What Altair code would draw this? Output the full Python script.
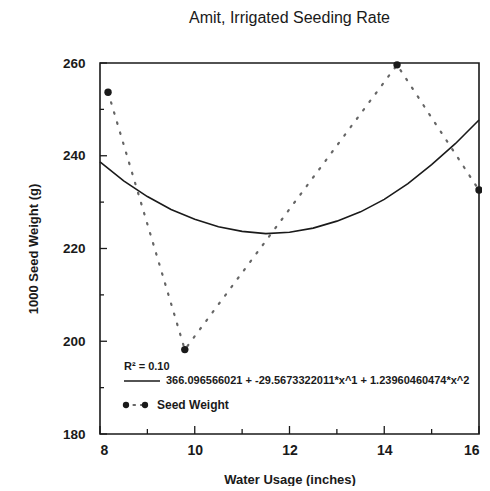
import altair as alt
import pandas as pd

# observed data
water = [8.17, 9.79, 14.27, 16.0]
seed_weight = [253.7, 198.2, 259.6, 232.6]

# fitted quadratic curve
curve_x = [8, 8.5, 9, 9.5, 10, 10.5, 11, 11.5, 12, 12.5, 13, 13.5, 14, 14.5, 15, 15.5, 16]
curve_y = [238.7, 234.6, 231.2, 228.4, 226.3, 224.7, 223.7, 223.2, 223.5, 224.4, 225.9, 227.9, 230.6, 234.0, 238.1, 242.6, 247.7]

# tick values
x_major = [8, 10, 12, 14, 16]
x_minor = [9, 11, 13, 15]
y_major = [180, 200, 220, 240, 260]
y_minor = [190, 210, 230, 250]

title = "Amit, Irrigated Seeding Rate"
x_title = "Water Usage (inches)"
y_title = "1000 Seed Weight (g)"
r2_text = "R\u00b2 = 0.10"
eq_text = "366.096566021 + -29.5673322011*x^1 + 1.23960460474*x^2"
series_name = "Seed Weight"

FONT = "Liberation Sans"
INK = "#1a1a1a"

pts = pd.DataFrame({"x": water, "y": seed_weight})
curve = pd.DataFrame({"x": curve_x, "y": curve_y})

xs = alt.Scale(domain=[8, 16], nice=False, zero=False)
ys = alt.Scale(domain=[180, 260], nice=False, zero=False)

xax = alt.Axis(values=x_major, format="d", ticks=False, grid=False, domain=False,
               labelFont=FONT, labelFontWeight="bold", labelFontSize=14, labelColor=INK,
               labelPadding=9, title=x_title, titleFont=FONT, titleFontWeight="bold",
               titleFontSize=13, titleColor=INK, titlePadding=16)
yax = alt.Axis(values=y_major, format="d", ticks=False, grid=False, domain=False,
               labelFont=FONT, labelFontWeight="bold", labelFontSize=13.5, labelColor=INK,
               labelPadding=15, title=y_title, titleFont=FONT, titleFontWeight="bold",
               titleFontSize=13, titleColor=INK, titlePadding=22)

base_x = alt.X("x:Q", scale=xs, axis=xax)
base_y = alt.Y("y:Q", scale=ys, axis=yax)

dotted = alt.Chart(pts).mark_line(color="#666666", strokeWidth=2.2, strokeDash=[1.5, 9],
                                  strokeCap="round").encode(x=base_x, y=base_y)
dots = alt.Chart(pts).mark_circle(color=INK, size=55, opacity=1).encode(x="x:Q", y="y:Q")
fit = alt.Chart(curve).mark_line(color=INK, strokeWidth=1.6).encode(x="x:Q", y="y:Q")

# inner ticks
ytick_major = alt.Chart(pd.DataFrame({"y": y_major})).mark_rule(color=INK, strokeWidth=1.3).encode(
    y="y:Q", x=alt.value(0), x2=alt.value(7))
ytick_minor = alt.Chart(pd.DataFrame({"y": y_minor})).mark_rule(color=INK, strokeWidth=1.3).encode(
    y="y:Q", x=alt.value(0), x2=alt.value(4))
xtick_major = alt.Chart(pd.DataFrame({"x": x_major})).mark_rule(color=INK, strokeWidth=1.3).encode(
    x="x:Q", y=alt.value(371), y2=alt.value(363))
xtick_minor = alt.Chart(pd.DataFrame({"x": x_minor})).mark_rule(color=INK, strokeWidth=1.3).encode(
    x="x:Q", y=alt.value(371), y2=alt.value(366))

# legend
leg_r2 = alt.Chart(pd.DataFrame({"t": [r2_text]})).mark_text(
    font=FONT, fontWeight="bold", fontSize=11, color=INK, align="left", baseline="middle"
).encode(text="t:N", x=alt.value(24), y=alt.value(304))
leg_line = alt.Chart(pd.DataFrame({"a": [0]})).mark_rule(color=INK, strokeWidth=1.6).encode(
    x=alt.value(24), x2=alt.value(60), y=alt.value(318))
leg_eq = alt.Chart(pd.DataFrame({"t": [eq_text]})).mark_text(
    font=FONT, fontWeight="bold", fontSize=11, color=INK, align="left", baseline="middle"
).encode(text="t:N", x=alt.value(66), y=alt.value(318))
leg_dl = alt.Chart(pd.DataFrame({"a": [0]})).mark_rule(color="#666666", strokeWidth=2.2,
                                                       strokeDash=[1.5, 6], strokeCap="round").encode(
    x=alt.value(26), x2=alt.value(45), y=alt.value(342))
leg_d1 = alt.Chart(pd.DataFrame({"a": [0]})).mark_circle(color=INK, size=40, opacity=1).encode(
    x=alt.value(26), y=alt.value(342))
leg_d2 = alt.Chart(pd.DataFrame({"a": [0]})).mark_circle(color=INK, size=40, opacity=1).encode(
    x=alt.value(45), y=alt.value(342))
leg_txt = alt.Chart(pd.DataFrame({"t": [series_name]})).mark_text(
    font=FONT, fontWeight="bold", fontSize=12, color=INK, align="left", baseline="middle"
).encode(text="t:N", x=alt.value(57), y=alt.value(342))

chart = alt.layer(
    dotted, fit, dots,
    ytick_major, ytick_minor, xtick_major, xtick_minor,
    leg_r2, leg_line, leg_eq, leg_dl, leg_d1, leg_d2, leg_txt,
).properties(
    width=379, height=371,
    title=alt.TitleParams(title, font=FONT, fontSize=16, fontWeight="normal", color=INK,
                          anchor="middle", offset=30),
    autosize=alt.AutoSizeParams(type="none"),
    padding={"left": 92, "top": 55, "right": 3, "bottom": 52},
).configure(background="white").configure_view(stroke=INK, strokeWidth=1.6)

chart.save("out.html", embed_options={"renderer": "svg", "actions": False})
